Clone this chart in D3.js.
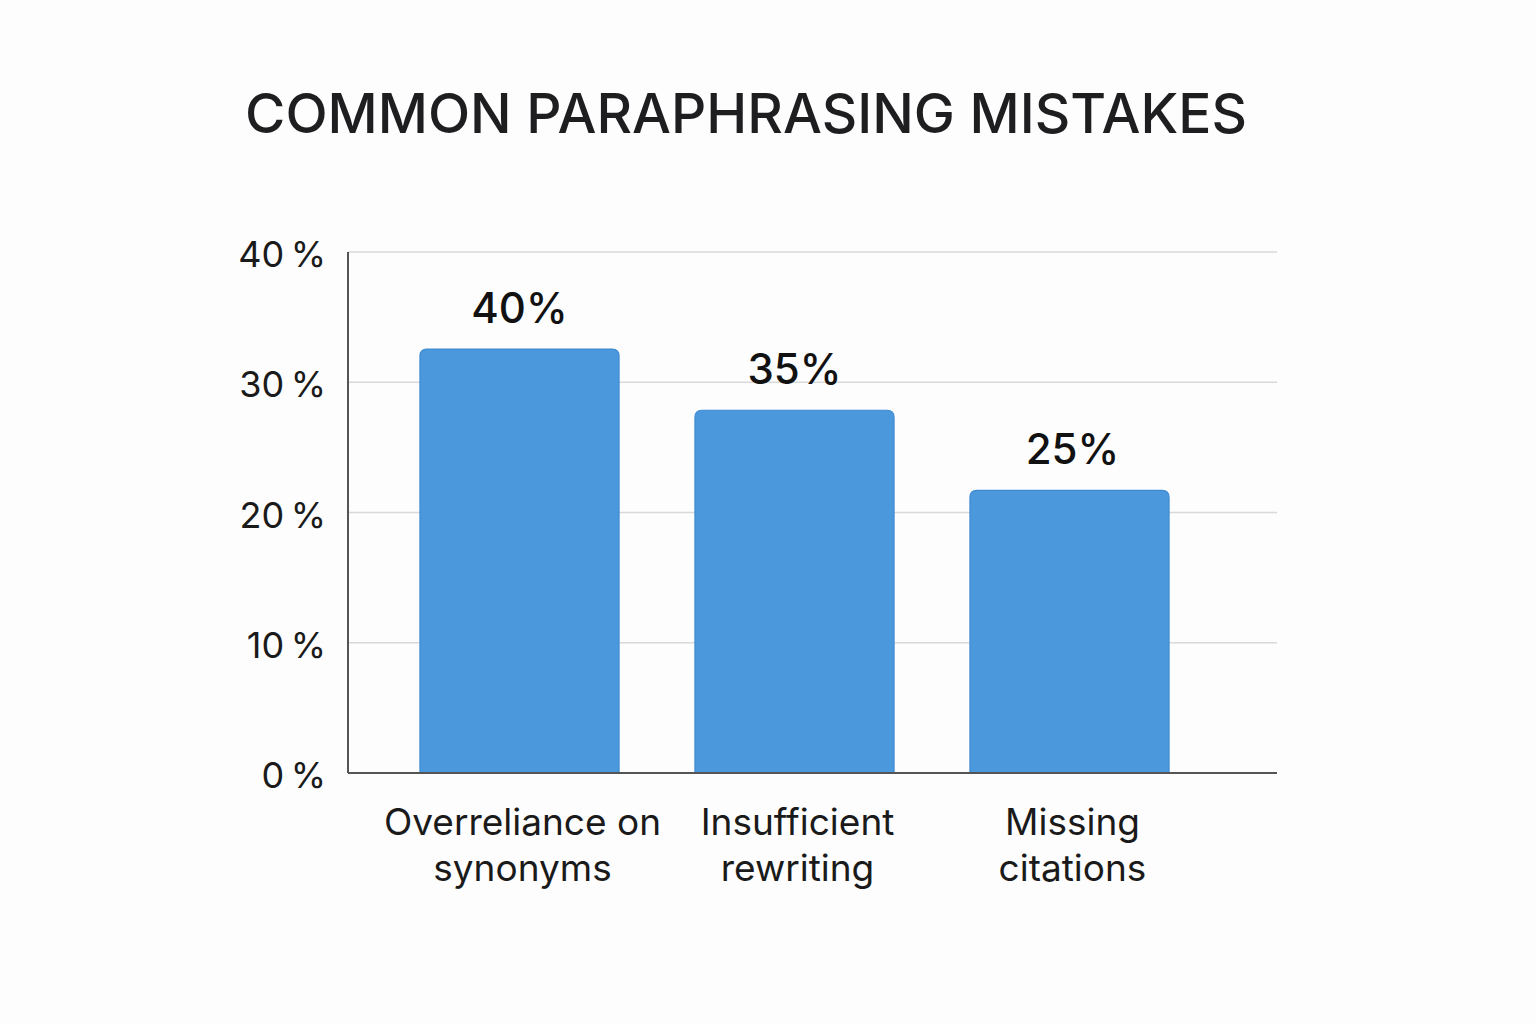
<!DOCTYPE html>
<html>
<head>
  <meta charset="utf-8">
  <title>Common Paraphrasing Mistakes</title>
  <style>
    body { margin: 0; background: #fdfdfd; }
  </style>
</head>
<body>
  <div class="container"></div>

  <script src="https://d3js.org/d3.v7.min.js"></script>
  <script type="text/javascript">
    // data
    var categories = ["Overreliance on|synonyms", "Insufficient|rewriting", "Missing|citations"];
    var barValues  = [32.55, 27.85, 21.7];      // drawn bar heights (%)
    var valueLabels = ["40%", "35%", "25%"];    // printed above bars
    var yTicks = [0, 10, 20, 30, 40];

    var W = 1536, H = 1024;
    var margin = {top: 252, right: 259, bottom: 251, left: 348},
        width  = W - margin.left - margin.right,
        height = H - margin.top  - margin.bottom;

    var svg = d3.select(".container")
        .append("svg")
        .attr("width", W)
        .attr("height", H)
        .style("font-family", "Inter, 'Noto Sans', sans-serif");

    svg.append("rect").attr("width", W).attr("height", H).attr("fill", "#fdfdfd");

    svg.append("text")
        .attr("x", 746)
        .attr("y", 133)
        .attr("text-anchor", "middle")
        .attr("font-size", 55)
        .attr("font-weight", 500)
        .attr("fill", "#1e1e20")
        .text("COMMON PARAPHRASING MISTAKES");

    var g = svg.append("g")
        .attr("transform", "translate(" + margin.left + "," + margin.top + ")");

    var yScale = d3.scaleLinear()
        .range([height, 0])
        .domain([0, 40]);

    var xScale = d3.scaleBand()
        .range([34, 859])
        .domain(categories)
        .paddingInner(0.276)
        .paddingOuter(0.138);

    // gridlines
    g.selectAll(".grid")
        .data(yTicks.filter(function(d){ return d > 0; }))
        .enter()
        .append("line")
        .attr("x1", 0)
        .attr("x2", width)
        .attr("y1", function(d){ return yScale(d); })
        .attr("y2", function(d){ return yScale(d); })
        .attr("stroke", "#d9d9d9")
        .attr("stroke-width", 1.5);

    // bars with rounded top corners
    var r = 7;
    g.selectAll(".bar")
        .data(barValues)
        .enter()
        .append("path")
        .attr("d", function(d, i){
          var x0 = xScale(categories[i]), x1 = x0 + xScale.bandwidth();
          var y0 = yScale(d), y1 = yScale(0);
          return "M" + x0 + "," + y1 +
                 "V" + (y0 + r) +
                 "Q" + x0 + "," + y0 + " " + (x0 + r) + "," + y0 +
                 "H" + (x1 - r) +
                 "Q" + x1 + "," + y0 + " " + x1 + "," + (y0 + r) +
                 "V" + y1 + "Z";
        })
        .attr("fill", "#4b98dd")
        .attr("stroke", "#3f8bd2")
        .attr("stroke-width", 1.2);

    // value labels
    g.selectAll(".val")
        .data(barValues)
        .enter()
        .append("text")
        .attr("x", function(d, i){ return xScale(categories[i]) + xScale.bandwidth() / 2 + (i == 2 ? 3 : 0); })
        .attr("y", function(d){ return yScale(d) - 26; })
        .attr("text-anchor", "middle")
        .attr("font-size", 42)
        .attr("font-weight", 500)
        .attr("fill", "#111")
        .text(function(d, i){ return valueLabels[i]; });

    // axes lines
    g.append("line")
        .attr("x1", 0).attr("x2", 0)
        .attr("y1", yScale(40)).attr("y2", yScale(0))
        .attr("stroke", "#555").attr("stroke-width", 2);
    g.append("line")
        .attr("x1", 0).attr("x2", width)
        .attr("y1", yScale(0)).attr("y2", yScale(0))
        .attr("stroke", "#555").attr("stroke-width", 2);

    // y tick labels
    g.selectAll(".ytick")
        .data(yTicks)
        .enter()
        .append("text")
        .attr("x", -22)
        .attr("y", function(d){ return yScale(d) + 15; })
        .attr("text-anchor", "end")
        .attr("font-size", 36)
        .attr("fill", "#1a1a1a")
        .text(function(d){ return d + "\u2009%"; });

    // category labels
    var cat = g.selectAll(".cat")
        .data(categories)
        .enter()
        .append("text")
        .attr("text-anchor", "middle")
        .attr("font-size", 37)
        .attr("fill", "#1a1a1a");
    cat.selectAll("tspan")
        .data(function(d){ return d.split("|").map(function(s){ return {s: s, c: d}; }); })
        .enter()
        .append("tspan")
        .attr("x", function(d){ return xScale(d.c) + xScale.bandwidth() / 2 + 3; })
        .attr("y", function(d, i){ return yScale(0) + 62 + i * 46; })
        .text(function(d){ return d.s; });
  </script>
</body>
</html>
